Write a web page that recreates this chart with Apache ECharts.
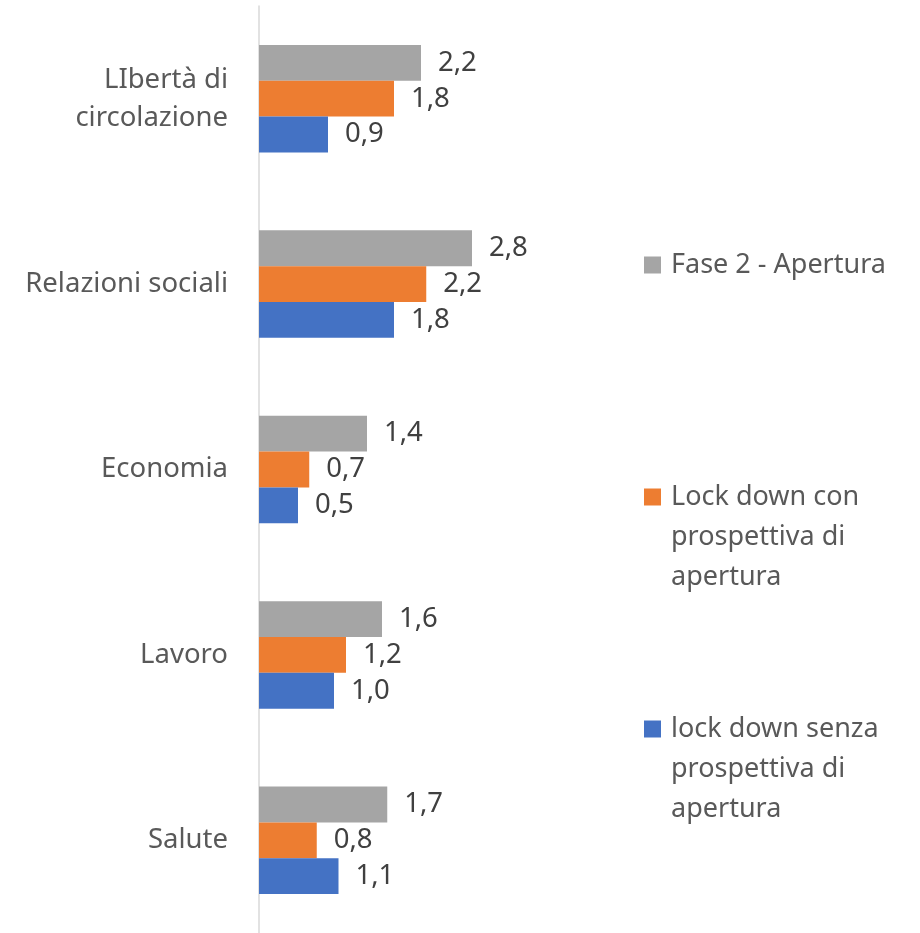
<!DOCTYPE html>
<html>
<head>
<meta charset="utf-8">
<script src="https://cdn.jsdelivr.net/npm/echarts@6/dist/echarts.min.js"></script>
<style>
  html, body { margin: 0; padding: 0; background: #fff; }
  #chart { width: 920px; height: 933px; }
</style>
</head>
<body>
<div id="chart"></div>
<script>
// categories top to bottom
const categories = ["LIbertà di\ncircolazione", "Relazioni sociali", "Economia", "Lavoro", "Salute"];
const seriesNames = [
  "Fase 2 - Apertura",
  "Lock down con prospettiva di apertura",
  "lock down senza prospettiva di apertura"
];
// values (labels show one decimal)
const fase2 = [2.16, 2.84, 1.44, 1.64, 1.71];
const lockCon = [1.80, 2.23, 0.67, 1.16, 0.77];
const lockSenza = [0.92, 1.80, 0.52, 1.00, 1.06];

const colors = ["#A5A5A5", "#ED7D31", "#4472C4"];
const font = "Noto Sans";

// two blank lines on top keep the marker next to the first line of text
const legendText = {
  "Fase 2 - Apertura": "Fase 2 - Apertura",
  "Lock down con prospettiva di apertura": "\n\nLock down con\nprospettiva di\napertura",
  "lock down senza prospettiva di apertura": "\n\nlock down senza\nprospettiva di\napertura"
};

function makeLegend(name, top) {
  return {
    data: [name],
    left: 644,
    top: top,
    padding: 0,
    orient: "vertical",
    icon: "rect",
    itemWidth: 17,
    itemHeight: 17,
    selectedMode: false,
    formatter: n => legendText[n],
    textStyle: {
      color: "#595959",
      fontSize: 27,
      fontFamily: font,
      lineHeight: 40,
      padding: [0, 0, 0, 5]
    }
  };
}

function barSeries(name, data, color) {
  return {
    name: name,
    type: "bar",
    data: data,
    barGap: "0%",
    barCategoryGap: "42%",
    itemStyle: { color: color },
    label: {
      show: true,
      position: "right",
      distance: 17,
      color: "#404040",
      fontSize: 27.5,
      fontFamily: font,
      formatter: p => p.value.toFixed(1).replace(".", ",")
    }
  };
}

const chart = echarts.init(document.getElementById("chart"));
chart.setOption({
  animation: false,
  color: colors,
  legend: [
    makeLegend(seriesNames[0], 245),
    makeLegend(seriesNames[1], 397),
    makeLegend(seriesNames[2], 629)
  ],
  grid: { left: 259, width: 300, top: 6, height: 931, containLabel: false },
  xAxis: { type: "value", min: 0, max: 4, show: false },
  yAxis: {
    type: "category",
    inverse: true,
    data: categories,
    axisLine: { show: true, lineStyle: { color: "#D9D9D9", width: 1.5 } },
    axisTick: { show: false },
    splitLine: { show: false },
    axisLabel: {
      color: "#595959",
      fontSize: 27.5,
      fontFamily: font,
      lineHeight: 38,
      margin: 31,
      align: "right"
    }
  },
  series: [
    barSeries(seriesNames[0], fase2, colors[0]),
    barSeries(seriesNames[1], lockCon, colors[1]),
    barSeries(seriesNames[2], lockSenza, colors[2])
  ]
});
</script>
</body>
</html>
